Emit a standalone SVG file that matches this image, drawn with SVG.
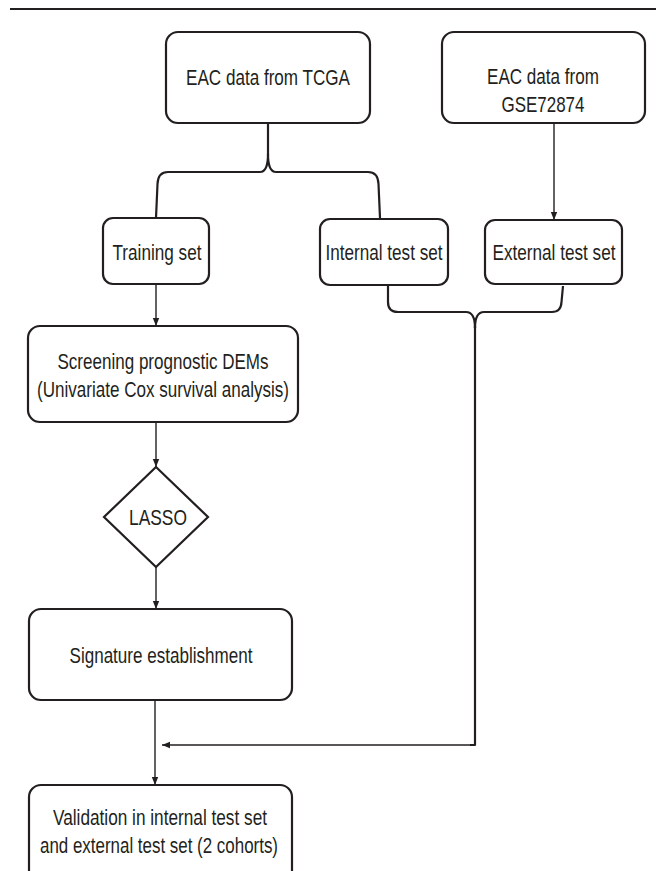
<svg xmlns="http://www.w3.org/2000/svg" width="656" height="871" viewBox="0 0 656 871">
<style>
.box{fill:#fff;stroke:#231f20;stroke-width:2.2}
.t{font-family:"Liberation Sans",Arial,sans-serif;font-size:21.5px;fill:#231f20;text-anchor:middle}
.brace{fill:none;stroke:#231f20;stroke-width:2.2;stroke-linejoin:round}
.arr{fill:none;stroke:#231f20;stroke-width:1.4;marker-end:url(#ah)}
</style>
<defs>
<marker id="ah" markerUnits="userSpaceOnUse" markerWidth="8" markerHeight="8" viewBox="0 0 8 8" refX="8" refY="4" orient="auto">
<path d="M0,0.8 L8,4 L0,7.2 Z" fill="#231f20"/>
</marker>
</defs>
<rect width="656" height="871" fill="#fff"/>
<line x1="10" y1="9" x2="656" y2="9" stroke="#231f20" stroke-width="2"/>

<g id="tcga">
<rect class="box" x="166" y="32" width="204" height="91" rx="12"/>
<text class="t" x="268" y="85" textLength="164" lengthAdjust="spacingAndGlyphs">EAC data from TCGA</text>
</g>
<g id="gse">
<rect class="box" x="442" y="32" width="203" height="91" rx="12"/>
<text class="t" x="543" y="84" textLength="112" lengthAdjust="spacingAndGlyphs">EAC data from</text>
<text class="t" x="543" y="112" textLength="83" lengthAdjust="spacingAndGlyphs">GSE72874</text>
</g>
<g id="training">
<rect class="box" x="103" y="218" width="106" height="66" rx="10"/>
<text class="t" x="157" y="260" textLength="89" lengthAdjust="spacingAndGlyphs">Training set</text>
</g>
<g id="internal">
<rect class="box" x="320" y="219" width="128" height="66" rx="10"/>
<text class="t" x="384" y="260" textLength="117" lengthAdjust="spacingAndGlyphs">Internal test set</text>
</g>
<g id="external">
<rect class="box" x="485" y="220" width="137" height="64" rx="10"/>
<text class="t" x="554" y="260" textLength="123" lengthAdjust="spacingAndGlyphs">External test set</text>
</g>
<g id="screening">
<rect class="box" x="28" y="326" width="270" height="96" rx="12"/>
<text class="t" x="163" y="369" textLength="211" lengthAdjust="spacingAndGlyphs">Screening prognostic DEMs</text>
<text class="t" x="163" y="397" textLength="252" lengthAdjust="spacingAndGlyphs">(Univariate Cox survival analysis)</text>
</g>
<g id="lasso">
<polygon class="box" points="156,467 208,517 156,567 104,517"/>
<text class="t" x="158" y="525" textLength="58" lengthAdjust="spacingAndGlyphs">LASSO</text>
</g>
<g id="signature">
<rect class="box" x="29" y="609" width="263" height="91" rx="12"/>
<text class="t" x="161" y="663" textLength="183" lengthAdjust="spacingAndGlyphs">Signature establishment</text>
</g>
<g id="validation">
<rect class="box" x="29" y="785" width="263" height="110" rx="12"/>
<text class="t" x="160" y="825" textLength="214" lengthAdjust="spacingAndGlyphs">Validation in internal test set</text>
<text class="t" x="159" y="853" textLength="238" lengthAdjust="spacingAndGlyphs">and external test set (2 cohorts)</text>
</g>

<g id="connectors">
<path class="brace" d="M268,123 V154 Q268,172 260,172 H168 Q158,172 157.5,184 L156,218"/>
<path class="brace" d="M268,154 Q268,172 276,172 H368 Q378,172 378.5,184 L380,218"/>
<path class="brace" d="M388,285 V302 Q388,312 398,312 H466 Q475,312 475,328"/>
<path class="brace" d="M475,328 Q475,312 484,312 H552 Q561,312 561.5,302 L563,286"/>
<path class="brace" d="M475,326 V745 H470" stroke-width="2"/>
<path class="arr" d="M472,745 H162"/>
<path class="arr" d="M554,123 V220"/>
<path class="arr" d="M156,284 V326"/>
<path class="arr" d="M156,422 V467"/>
<path class="arr" d="M156,567 V609"/>
<path class="arr" d="M155,700 V785"/>
</g>
</svg>
